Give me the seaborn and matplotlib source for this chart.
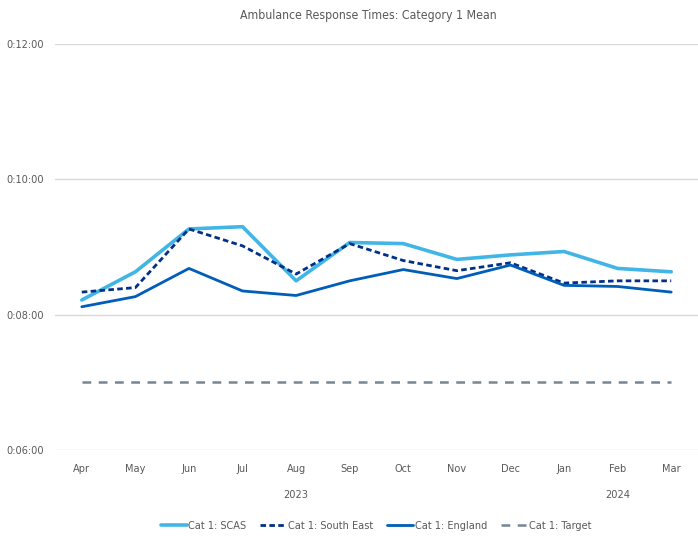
import matplotlib
matplotlib.use("Agg")
import matplotlib.pyplot as plt
import seaborn as sns
import pandas as pd
from matplotlib.ticker import FuncFormatter, FixedLocator
from matplotlib import font_manager

months = ["Apr", "May", "Jun", "Jul", "Aug", "Sep", "Oct", "Nov", "Dec", "Jan", "Feb", "Mar"]
years = ["2023", "2024"]
year_months = [9, 3]
# values in seconds
scas = [493, 518, 556, 558, 510, 544, 543, 529, 533, 536, 521, 518]
south_east = [500, 504, 556, 541, 516, 543, 528, 519, 526, 508, 510, 510]
england = [487, 496, 521, 501, 497, 510, 520, 512, 524, 506, 505, 500]
target = [420] * 12

series_names = ["Cat 1: SCAS", "Cat 1: South East", "Cat 1: England", "Cat 1: Target"]
series_vals = [scas, south_east, england, target]
colors = ["#41B6E6", "#003087", "#005EB8", "#768692"]
styles = [dict(lw=2.6, ls="-"), dict(lw=2.0, ls=(0, (2, 1.2))),
          dict(lw=2.0, ls="-"), dict(lw=1.8, ls=(0, (3.5, 3)))]

sns.set_theme(style="white")
names = {f.name for f in font_manager.fontManager.ttflist}
fam = [n for n in ["Liberation Sans Narrow", "DejaVu Sans"] if n in names]
plt.rcParams['font.family'] = fam
plt.rcParams['font.stretch'] = 'condensed'

rows = []
for name, vals in zip(series_names, series_vals):
    for i, v in enumerate(vals):
        rows.append({"series": name, "idx": i, "minutes": v / 60.0})
df = pd.DataFrame(rows)

fig = plt.figure(figsize=(6.98, 5.39), dpi=100)
ax = fig.add_axes([55 / 698, 1 - 450 / 539, 643 / 698, 406 / 539])

for name, c, st in zip(series_names, colors, styles):
    sub = df[df.series == name]
    sns.lineplot(data=sub, x="idx", y="minutes", ax=ax, color=c, label=name,
                 linewidth=st["lw"], linestyle=st["ls"], legend=False)

fs = 7.8
ax.set_xlim(-0.5, 11.5)
ax.set_ylim(6, 12)
ax.yaxis.set_major_locator(FixedLocator([6, 8, 10, 12]))
ax.yaxis.set_major_formatter(FuncFormatter(lambda v, p: f"0:{int(round(v)):02d}:00"))
ax.set_xticks(range(12))
ax.set_xticklabels(months)
ax.tick_params(axis="both", length=0, labelsize=fs, labelcolor="#595959")
ax.tick_params(axis="x", pad=10)
ax.tick_params(axis="y", pad=8)
ax.grid(axis="y", color="#D9D9D9", linewidth=1)
for s in ax.spines.values():
    s.set_visible(False)
ax.set_xlabel("")
ax.set_ylabel("")

start = 0
for yr, n in zip(years, year_months):
    center = start + (n - 1) / 2
    ax.text(center, -0.11, yr, transform=ax.get_xaxis_transform(), ha="center", va="center",
            fontsize=fs, color="#595959")
    start += n

fig.suptitle("Ambulance Response Times: Category 1 Mean", x=368 / 698, y=1 - 15 / 539,
             fontsize=8.8, color="#595959", va="center")

handles, labels = ax.get_legend_handles_labels()
fig.legend(handles, labels, loc="center", bbox_to_anchor=(376 / 698, 1 - 526 / 539), ncol=4,
           frameon=False, fontsize=fs, labelcolor="#595959", handlelength=2.4,
           columnspacing=1.3, handletextpad=0.15)

fig.savefig("out.png", dpi=100)
